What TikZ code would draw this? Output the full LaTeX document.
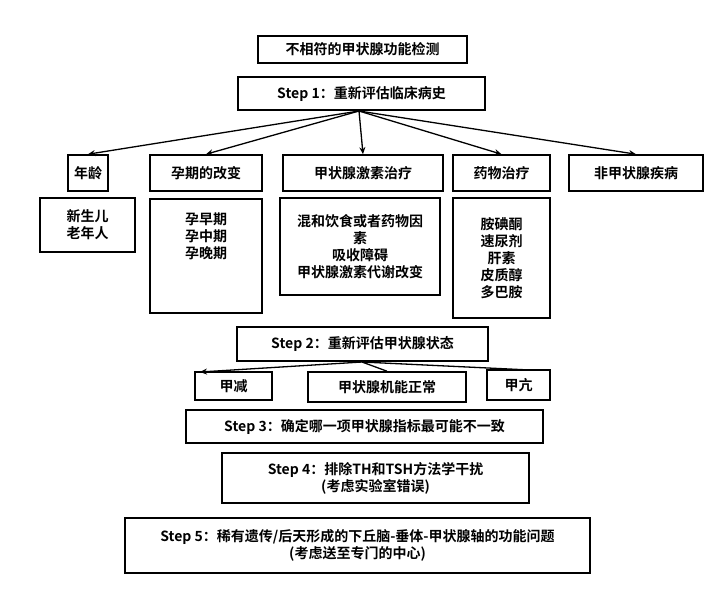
\documentclass[tikz,border=0pt]{standalone}
\usepackage{fontspec}
\setmainfont{Noto Sans CJK SC Bold}
\usetikzlibrary{arrows.meta}
\begin{document}
\begin{tikzpicture}[x=1pt,y=-1pt,
 bx/.style={draw,line width=1.6pt,align=center,inner sep=0pt,font=\fontsize{14}{17}\selectfont},
 ar/.style={-{Stealth[length=7pt,width=6pt]},line width=1.3pt},
 ln/.style={line width=1.3pt}]
\useasboundingbox (0,0) rectangle (720,603);
\newcommand\bb[6]{\node[bx,minimum width=#4-#2 pt,minimum height=#5-#3 pt] (#1) at ({(#2+#4)/2},{(#3+#5)/2}) {#6};}
\bb{t}{258}{36}{467}{63}{不相符的甲状腺功能检测}
\bb{s1}{238}{77}{485}{110}{Step 1：重新评估临床病史}
\bb{a}{68}{155}{108}{191}{年龄}
\bb{b}{150}{155}{262}{191}{孕期的改变}
\bb{c}{283}{155}{443}{191}{甲状腺激素治疗}
\bb{d}{453}{155}{550}{191}{药物治疗}
\bb{e}{569}{155}{703}{191}{非甲状腺疾病}
\bb{a2}{40}{198}{135}{252}{新生儿\\老年人}
\node[bx,minimum width=112pt,minimum height=114pt,anchor=north,text depth=0pt] (b2) at (206,198) {\rule{0pt}{8pt}\\[-6pt]孕早期\\孕中期\\孕晚期\\[30pt]};
\bb{c2}{280}{198}{440}{295}{混和饮食或者药物因\\素\\吸收障碍\\甲状腺激素代谢改变}
\bb{d2}{453}{198}{550}{318}{胺碘酮\\速尿剂\\肝素\\皮质醇\\多巴胺}
\bb{s2}{237}{327}{488}{361}{Step 2：重新评估甲状腺状态}
\bb{f}{195}{372}{272}{400}{甲减}
\bb{g}{308}{372}{466}{402}{甲状腺机能正常}
\bb{h}{487}{370}{550}{400}{甲亢}
\bb{s3}{186}{410}{543}{443}{Step 3：确定哪一项甲状腺指标最可能不一致}
\bb{s4}{222}{453}{529}{503}{Step 4：排除TH和TSH方法学干扰\\(考虑实验室错误)}
\bb{s5}{125}{518}{590}{573}{Step 5：稀有遗传/后天形成的下丘脑-垂体-甲状腺轴的功能问题\\(考虑送至专门的中心)}
\coordinate (o) at (359,111);
\draw[ar] (o) -- (a.north);
\draw[ar] (o) -- (b.north);
\draw[ar] (o) -- (c.north);
\draw[ar] (o) -- (d.north);
\draw[ar] (o) -- (e.north);
\coordinate (o2) at (362,362);
\draw[ar] (o2) -- (200,372);
\draw[ln] (o2) -- (g.north);
\draw[ln] (o2) -- (530,370);
\end{tikzpicture}
\end{document}
